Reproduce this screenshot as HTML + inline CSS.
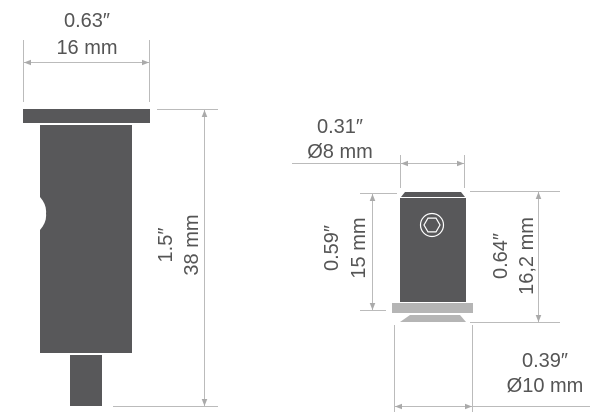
<!DOCTYPE html>
<html><head><style>body{margin:0;background:#fff}svg{display:block}text{font-family:"Liberation Sans",sans-serif;font-size:20px;fill:#555}</style></head>
<body>
<svg width="600" height="414" viewBox="0 0 600 414">
<defs>
<marker id="a" viewBox="0 0 10 10" refX="10" refY="5" markerWidth="9" markerHeight="7" orient="auto-start-reverse" markerUnits="userSpaceOnUse"><path d="M0,1L10,5L0,9z" fill="#aaa"/></marker>
</defs>
<g stroke="#bbb" stroke-width="1" fill="none">
<line x1="23.5" y1="40" x2="23.5" y2="102"/><line x1="149.5" y1="40" x2="149.5" y2="102"/>
<line x1="24" y1="62.5" x2="149" y2="62.5" marker-start="url(#a)" marker-end="url(#a)"/>
<line x1="157" y1="109.5" x2="218" y2="109.5"/><line x1="113" y1="406.5" x2="218" y2="406.5"/>
<line x1="204.5" y1="110" x2="204.5" y2="406" marker-start="url(#a)" marker-end="url(#a)"/>
<line x1="292" y1="163.5" x2="464" y2="163.5"/>
<line x1="400.5" y1="155" x2="400.5" y2="188"/><line x1="464.5" y1="155" x2="464.5" y2="188"/>
<line x1="401" y1="163.5" x2="464" y2="163.5" marker-start="url(#a)" marker-end="url(#a)"/>
<line x1="360" y1="193.5" x2="397" y2="193.5"/><line x1="360" y1="310.5" x2="386" y2="310.5"/>
<line x1="372.5" y1="194" x2="372.5" y2="310" marker-start="url(#a)" marker-end="url(#a)"/>
<line x1="470" y1="191.5" x2="560" y2="191.5"/><line x1="470" y1="322.5" x2="560" y2="322.5"/>
<line x1="538.5" y1="192" x2="538.5" y2="322" marker-start="url(#a)" marker-end="url(#a)"/>
<line x1="394.5" y1="325" x2="394.5" y2="412"/><line x1="472.5" y1="325" x2="472.5" y2="412"/>
<line x1="395" y1="406.5" x2="590" y2="406.5"/>
<line x1="395" y1="406.5" x2="472" y2="406.5" marker-start="url(#a)" marker-end="url(#a)"/>
</g>
<g fill="#58585a">
<rect x="23" y="109" width="127" height="14"/>
<path d="M40,125H132V353H40V230Q47,222 46,213.5Q47,205 40,197Z"/>
<rect x="70" y="355" width="32" height="51"/>
<path d="M405,192H461L465,197H401Z"/>
<rect x="400" y="198" width="66" height="104"/>
</g>
<circle cx="432" cy="225" r="11.5" fill="none" stroke="#fff" stroke-width="1.2"/>
<polygon points="440,225 436,231.9 428,231.9 424,225 428,218.1 436,218.1" fill="none" stroke="#fff" stroke-width="1.2"/>
<rect x="392" y="303" width="81" height="10" fill="#b5b5b5"/>
<path d="M410,315H460L466,322H400Z" fill="#b5b5b5"/>
<text x="87" y="27" text-anchor="middle">0.63″</text>
<text x="87" y="54" text-anchor="middle">16 mm</text>
<text transform="translate(172,245) rotate(-90)" text-anchor="middle">1.5″</text>
<text transform="translate(198,245) rotate(-90)" text-anchor="middle">38 mm</text>
<text x="340" y="133" text-anchor="middle">0.31″</text>
<text x="340" y="158" text-anchor="middle">Ø8 mm</text>
<text transform="translate(338,248) rotate(-90)" text-anchor="middle">0.59″</text>
<text transform="translate(365,248) rotate(-90)" text-anchor="middle">15 mm</text>
<text transform="translate(507,256) rotate(-90)" text-anchor="middle">0.64″</text>
<text transform="translate(533,256) rotate(-90)" text-anchor="middle">16,2 mm</text>
<text x="545" y="367" text-anchor="middle">0.39″</text>
<text x="545" y="392" text-anchor="middle">Ø10 mm</text>
</svg>
</body></html>
